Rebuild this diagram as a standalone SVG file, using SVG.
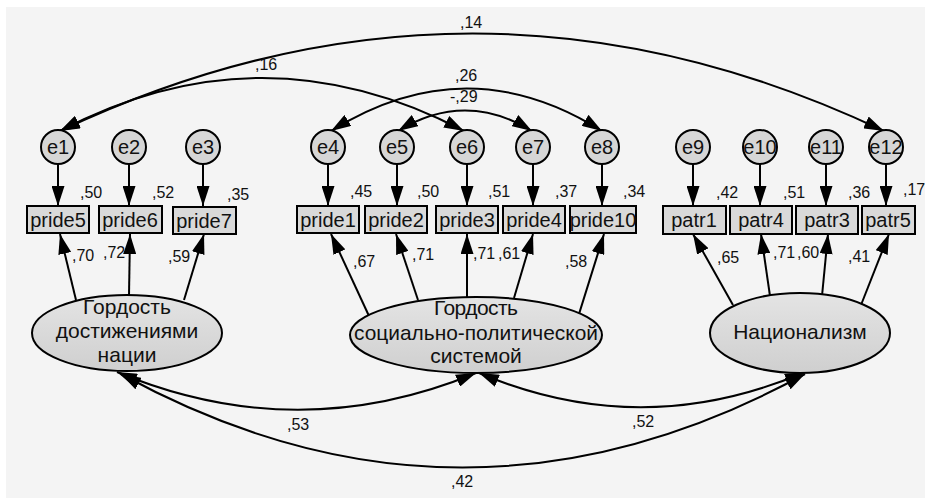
<svg xmlns="http://www.w3.org/2000/svg" width="925" height="498" viewBox="0 0 925 498">
<defs>
<marker id="ah" viewBox="0 0 20 13" refX="20" refY="6.5" markerWidth="20" markerHeight="13" markerUnits="userSpaceOnUse" orient="auto-start-reverse"><path d="M0,0 L20,6.5 L0,13 z" fill="#000"/></marker>
<linearGradient id="eg" x1="0" y1="0" x2="0" y2="1"><stop offset="0" stop-color="#e4e4e4"/><stop offset="1" stop-color="#cfcfcf"/></linearGradient>
</defs>
<style>
.bg{fill:#f4f4f4}
.c{fill:#d6d6d6;stroke:#000;stroke-width:2}
.r{fill:#d9d9d9;stroke:#000;stroke-width:2}
.el{fill:url(#eg);stroke:#000;stroke-width:2}
.t{font-family:"Liberation Sans",Arial,sans-serif;fill:#111}
.ct{font-size:20px;text-anchor:middle}
.rt{font-size:20px;text-anchor:middle}
.et{font-size:21px;text-anchor:middle}
.n{font-size:16px}
.a{fill:none;stroke:#000;stroke-width:2;marker-end:url(#ah)}
.d{fill:none;stroke:#000;stroke-width:2;marker-start:url(#ah);marker-end:url(#ah)}
</style>
<rect x="0" y="0" width="925" height="498" fill="#fff"/>
<rect class="bg" x="6" y="7" width="919" height="491"/>

<g id="connectors">
<line class="a" x1="58" y1="164" x2="58" y2="206"/>
<line class="a" x1="129" y1="164" x2="129" y2="206"/>
<line class="a" x1="203" y1="164" x2="203" y2="206"/>
<line class="a" x1="328" y1="164" x2="328" y2="206"/>
<line class="a" x1="397" y1="164" x2="397" y2="206"/>
<line class="a" x1="467" y1="164" x2="467" y2="206"/>
<line class="a" x1="533" y1="164" x2="533" y2="206"/>
<line class="a" x1="602" y1="164" x2="602" y2="206"/>
<line class="a" x1="693" y1="164" x2="693" y2="206"/>
<line class="a" x1="760" y1="164" x2="760" y2="206"/>
<line class="a" x1="826" y1="164" x2="826" y2="206"/>
<line class="a" x1="886" y1="164" x2="886" y2="206"/>
<line class="a" x1="76" y1="300" x2="60" y2="234"/>
<line class="a" x1="129" y1="296" x2="130" y2="234"/>
<line class="a" x1="184" y1="300" x2="204" y2="234"/>
<line class="a" x1="369" y1="316" x2="331" y2="234"/>
<line class="a" x1="418" y1="300" x2="396" y2="234"/>
<line class="a" x1="467" y1="298" x2="467" y2="234"/>
<line class="a" x1="514" y1="298" x2="533" y2="234"/>
<line class="a" x1="579" y1="314" x2="604" y2="234"/>
<line class="a" x1="733" y1="305" x2="693" y2="234"/>
<line class="a" x1="770" y1="296" x2="761" y2="234"/>
<line class="a" x1="822" y1="296" x2="828" y2="234"/>
<line class="a" x1="861" y1="305" x2="889" y2="234"/>
<path class="d" d="M60,131 Q473,-64 884,131"/>
<path class="d" d="M60,131 Q262,25 464,131"/>
<path class="d" d="M331,131 Q467,46 602,131"/>
<path class="d" d="M398,131 Q465,90 532,131"/>
<path class="d" d="M117,372 Q297,447 476,373"/>
<path class="d" d="M479,373 Q642,442 805,372"/>
<path class="d" d="M121,374 Q462,561 805,374"/>
</g>

<g id="e1"><circle class="c" cx="58" cy="147" r="17"/><text class="t ct" x="58" y="154">e1</text></g>
<g id="e2"><circle class="c" cx="129" cy="147" r="17"/><text class="t ct" x="129" y="154">e2</text></g>
<g id="e3"><circle class="c" cx="203" cy="147" r="17"/><text class="t ct" x="203" y="154">e3</text></g>
<g id="e4"><circle class="c" cx="328" cy="147" r="17"/><text class="t ct" x="328" y="154">e4</text></g>
<g id="e5"><circle class="c" cx="397" cy="147" r="17"/><text class="t ct" x="397" y="154">e5</text></g>
<g id="e6"><circle class="c" cx="467" cy="147" r="17"/><text class="t ct" x="467" y="154">e6</text></g>
<g id="e7"><circle class="c" cx="533" cy="147" r="17"/><text class="t ct" x="533" y="154">e7</text></g>
<g id="e8"><circle class="c" cx="602" cy="147" r="17"/><text class="t ct" x="602" y="154">e8</text></g>
<g id="e9"><circle class="c" cx="693" cy="147" r="17"/><text class="t ct" x="693" y="154">e9</text></g>
<g id="e10"><circle class="c" cx="760" cy="147" r="17"/><text class="t ct" x="760" y="154">e10</text></g>
<g id="e11"><circle class="c" cx="826" cy="147" r="17"/><text class="t ct" x="826" y="154">e11</text></g>
<g id="e12"><circle class="c" cx="886" cy="147" r="17"/><text class="t ct" x="886" y="154">e12</text></g>

<g id="pride5"><rect class="r" x="27" y="206" width="62" height="27"/><text class="t rt" x="58" y="227">pride5</text></g>
<g id="pride6"><rect class="r" x="99" y="206" width="63" height="27"/><text class="t rt" x="130" y="227">pride6</text></g>
<g id="pride7"><rect class="r" x="173" y="207" width="63" height="27"/><text class="t rt" x="204" y="228">pride7</text></g>
<g id="pride1"><rect class="r" x="297" y="206" width="62" height="27"/><text class="t rt" x="328" y="227">pride1</text></g>
<g id="pride2"><rect class="r" x="365" y="206" width="62" height="27"/><text class="t rt" x="396" y="227">pride2</text></g>
<g id="pride3"><rect class="r" x="436" y="206" width="62" height="27"/><text class="t rt" x="467" y="227">pride3</text></g>
<g id="pride4"><rect class="r" x="503" y="206" width="62" height="27"/><text class="t rt" x="534" y="227">pride4</text></g>
<g id="pride10"><rect class="r" x="570" y="206" width="66" height="27"/><text class="t rt" x="603" y="227">pride10</text></g>
<g id="patr1"><rect class="r" x="663" y="206" width="63" height="28"/><text class="t rt" x="694" y="227">patr1</text></g>
<g id="patr4"><rect class="r" x="730" y="206" width="62" height="28"/><text class="t rt" x="761" y="227">patr4</text></g>
<g id="patr3"><rect class="r" x="796" y="206" width="62" height="28"/><text class="t rt" x="827" y="227">patr3</text></g>
<g id="patr5"><rect class="r" x="862" y="206" width="53" height="28"/><text class="t rt" x="888" y="227">patr5</text></g>

<g id="f1"><ellipse class="el" cx="127" cy="333" rx="95" ry="38"/>
<text class="t et" x="127" y="314">Гордость</text><text class="t et" x="127" y="338">достижениями</text><text class="t et" x="127" y="362">нации</text></g>
<g id="f2"><ellipse class="el" cx="476" cy="335" rx="126" ry="38"/>
<text class="t et" x="476" y="315" textLength="84">Гордость</text><text class="t et" x="476" y="340" textLength="244" lengthAdjust="spacingAndGlyphs">социально-политической</text><text class="t et" x="476" y="363">системой</text></g>
<g id="f3"><ellipse class="el" cx="800" cy="333" rx="90" ry="40"/>
<text class="t et" x="800" y="339">Национализм</text></g>

<g id="labels" class="t n">
<text x="80" y="198">,50</text>
<text x="152" y="198">,52</text>
<text x="227" y="200">,35</text>
<text x="350" y="197">,45</text>
<text x="417" y="197">,50</text>
<text x="488" y="197">,51</text>
<text x="555" y="197">,37</text>
<text x="623" y="197">,34</text>
<text x="716" y="198">,42</text>
<text x="783" y="198">,51</text>
<text x="848" y="198">,36</text>
<text x="903" y="195">,17</text>
<text x="72" y="261">,70</text>
<text x="103" y="258">,72</text>
<text x="168" y="262">,59</text>
<text x="353" y="267">,67</text>
<text x="412" y="260">,71</text>
<text x="473" y="259">,71</text>
<text x="498" y="259">,61</text>
<text x="565" y="267">,58</text>
<text x="717" y="263">,65</text>
<text x="773" y="258">,71</text>
<text x="797" y="258">,60</text>
<text x="848" y="262">,41</text>
<text x="460" y="28">,14</text>
<text x="255" y="70">,16</text>
<text x="455" y="81">,26</text>
<text x="450" y="102">-,29</text>
<text x="287" y="430">,53</text>
<text x="632" y="427">,52</text>
<text x="451" y="487">,42</text>
</g>
</svg>
